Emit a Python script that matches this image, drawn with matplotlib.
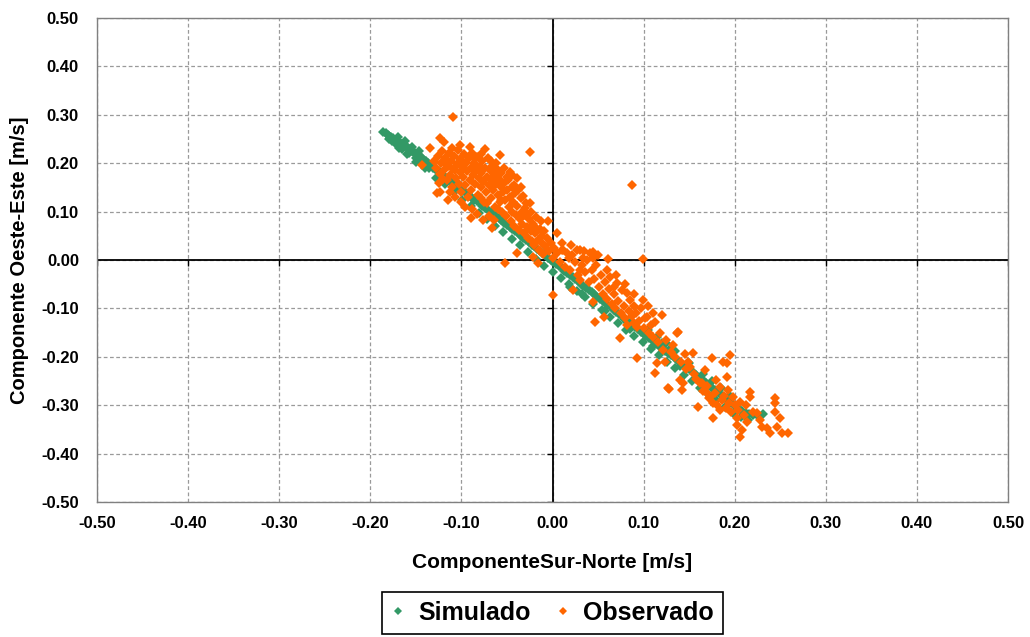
import matplotlib
matplotlib.use("Agg")
import matplotlib.pyplot as plt
from matplotlib.markers import TICKDOWN, TICKLEFT
from matplotlib.ticker import FormatStrFormatter

plt.rcParams['font.family'] = ['Liberation Sans', 'DejaVu Sans']
plt.rcParams['axes.unicode_minus'] = False

# Simulado (componente sur-norte, componente oeste-este)
sim_x = [-0.186, -0.183, -0.181, -0.179, -0.177, -0.175, -0.173, -0.171, -0.169, -0.167,
         -0.165, -0.163, -0.161, -0.159, -0.157, -0.155, -0.153, -0.151, -0.149, -0.147,
         -0.145, -0.143, -0.141, -0.139, -0.137, -0.135, -0.133, -0.131, -0.129, -0.127,
         -0.125, -0.123, -0.121, -0.119, -0.117, -0.115, -0.113, -0.111, -0.109, -0.107,
         -0.104, -0.101, -0.098, -0.095, -0.092, -0.089, -0.086, -0.083, -0.080, -0.077,
         -0.074, -0.071, -0.068, -0.065, -0.062, -0.059, -0.056, -0.053, -0.050, -0.047,
         -0.044, -0.041, -0.038, -0.035, -0.032, -0.029, -0.026, -0.023, -0.020, -0.017,
         -0.014, -0.011, -0.008, -0.005, -0.002, 0.001, 0.004, 0.007, 0.010, 0.013,
         0.016, 0.019, 0.022, 0.025, 0.028, 0.031, 0.034, 0.037, 0.040, 0.043,
         0.046, 0.049, 0.052, 0.055, 0.058, 0.061, 0.064, 0.067, 0.070, 0.073,
         0.076, 0.079, 0.082, 0.085, 0.088, 0.091, 0.094, 0.097, 0.100, 0.103,
         0.106, 0.109, 0.112, 0.115, 0.118, 0.121, 0.124, 0.127, 0.130, 0.133,
         0.136, 0.139, 0.142, 0.145, 0.148, 0.151, 0.154, 0.157, 0.160, 0.163,
         0.166, 0.169, 0.172, 0.175, 0.178, 0.181, 0.184, 0.187, 0.190, 0.193,
         0.196, 0.199, 0.202, 0.205, 0.208, 0.212, 0.216, 0.220, 0.226, 0.231,
         -0.176, -0.168, -0.160, -0.150, -0.140, -0.128, -0.118, -0.108, -0.099, -0.090,
         -0.081, -0.072, -0.063, -0.054, -0.045, -0.036, -0.027, -0.018, -0.009, 0.000,
         0.009, 0.018, 0.027, 0.036, 0.045, 0.054, 0.063, 0.072, 0.081, 0.090,
         0.099, 0.108, 0.117, 0.126, 0.135, 0.144, 0.153, 0.162, 0.171, 0.180,
         0.189, 0.198, 0.207, 0.215, 0.019, 0.032, 0.058, 0.085, 0.110, 0.140,
         -0.180, -0.172, -0.165, -0.158, -0.150, -0.143, -0.136, -0.170, -0.162, -0.154,
         -0.146, 0.105, 0.115, 0.125, 0.135, 0.150, 0.165, 0.175, 0.185, 0.195,
         0.120, 0.130]
sim_y = [0.265, 0.262, 0.258, 0.257, 0.254, 0.252, 0.248, 0.247, 0.244, 0.242,
         0.239, 0.236, 0.235, 0.231, 0.229, 0.226, 0.224, 0.221, 0.219, 0.216,
         0.213, 0.210, 0.207, 0.204, 0.201, 0.197, 0.195, 0.191, 0.189, 0.186,
         0.183, 0.180, 0.176, 0.174, 0.170, 0.168, 0.164, 0.162, 0.158, 0.156,
         0.151, 0.147, 0.143, 0.138, 0.134, 0.130, 0.125, 0.121, 0.117, 0.112,
         0.108, 0.104, 0.099, 0.095, 0.090, 0.086, 0.082, 0.077, 0.073, 0.068,
         0.064, 0.059, 0.055, 0.050, 0.046, 0.041, 0.037, 0.032, 0.028, 0.023,
         0.019, 0.014, 0.010, 0.005, 0.001, -0.004, -0.008, -0.013, -0.017, -0.022,
         -0.026, -0.031, -0.035, -0.040, -0.044, -0.049, -0.053, -0.058, -0.062, -0.067,
         -0.071, -0.076, -0.080, -0.085, -0.089, -0.094, -0.098, -0.103, -0.107, -0.112,
         -0.116, -0.121, -0.125, -0.130, -0.134, -0.139, -0.143, -0.148, -0.152, -0.156,
         -0.161, -0.165, -0.170, -0.174, -0.179, -0.183, -0.188, -0.192, -0.197, -0.201,
         -0.205, -0.210, -0.214, -0.219, -0.223, -0.228, -0.232, -0.237, -0.241, -0.246,
         -0.250, -0.255, -0.259, -0.264, -0.268, -0.273, -0.277, -0.282, -0.286, -0.291,
         -0.295, -0.300, -0.304, -0.308, -0.312, -0.316, -0.318, -0.320, -0.322, -0.318,
         0.245, 0.232, 0.220, 0.203, 0.190, 0.170, 0.156, 0.140, 0.125, 0.111,
         0.098, 0.084, 0.070, 0.057, 0.043, 0.030, 0.016, 0.003, -0.012, -0.025,
         -0.037, -0.050, -0.064, -0.077, -0.091, -0.104, -0.117, -0.130, -0.144, -0.158,
         -0.170, -0.184, -0.197, -0.210, -0.224, -0.238, -0.250, -0.264, -0.277, -0.290,
         -0.303, -0.316, -0.325, -0.330, -0.056, -0.070, -0.105, -0.143, -0.178, -0.220,
         0.250, 0.240, 0.230, 0.222, 0.210, 0.200, 0.190, 0.255, 0.245, 0.234,
         0.225, -0.145, -0.160, -0.172, -0.188, -0.212, -0.235, -0.250, -0.265, -0.280,
         -0.172, -0.182]

# Observado
obs_x = [-0.134, -0.143, -0.127, -0.115, -0.124, -0.123, -0.119, -0.109, -0.102, -0.091,
         -0.074, -0.058, -0.025, -0.047, -0.039, -0.049, -0.130, -0.128, -0.126, -0.124,
         -0.122, -0.121, -0.119, -0.118, -0.116, -0.115, -0.114, -0.112, -0.111, -0.110,
         -0.109, -0.108, -0.106, -0.105, -0.104, -0.103, -0.102, -0.101, -0.100, -0.099,
         -0.098, -0.097, -0.096, -0.095, -0.094, -0.093, -0.092, -0.091, -0.090, -0.089,
         -0.088, -0.087, -0.086, -0.085, -0.084, -0.083, -0.082, -0.081, -0.080, -0.079,
         -0.078, -0.077, -0.076, -0.075, -0.074, -0.073, -0.072, -0.071, -0.070, -0.069,
         -0.068, -0.067, -0.066, -0.065, -0.064, -0.063, -0.062, -0.061, -0.060, -0.059,
         -0.058, -0.057, -0.056, -0.055, -0.054, -0.053, -0.052, -0.051, -0.050, -0.048,
         -0.047, -0.046, -0.045, -0.044, -0.043, -0.042, -0.041, -0.040, -0.039, -0.037,
         -0.036, -0.035, -0.034, -0.033, -0.031, -0.030, -0.029, -0.028, -0.027, -0.026,
         -0.025, -0.024, -0.022, -0.021, -0.020, -0.019, -0.018, -0.016, -0.015, -0.014,
         -0.012, -0.011, -0.010, -0.008, -0.006, -0.005, -0.004, -0.002, 0.000, 0.002,
         -0.090, -0.066, -0.052, -0.039, -0.076, -0.021, -0.016, 0.005, 0.001, 0.087,
         0.005, 0.008, 0.010, 0.012, 0.014, 0.016, 0.018, 0.019, 0.021, 0.023,
         0.025, 0.027, 0.028, 0.030, 0.030, 0.032, 0.034, 0.036, 0.038, 0.040,
         0.041, 0.043, 0.044, 0.045, 0.046, 0.048, 0.050, 0.051, 0.053, 0.055,
         0.056, 0.047, 0.058, 0.060, 0.061, 0.062, 0.063, 0.065, 0.067, 0.069,
         0.071, 0.072, 0.074, 0.075, 0.076, 0.078, 0.080, 0.082, 0.082, 0.084,
         0.085, 0.087, 0.089, 0.090, 0.092, 0.093, 0.093, 0.095, 0.097, 0.099,
         0.099, 0.100, 0.102, 0.104, 0.106, 0.108, 0.110, 0.113, 0.113, 0.115,
         0.116, 0.118, 0.120, 0.121, 0.123, 0.125, 0.127, 0.128, 0.130, 0.132,
         0.134, 0.137, 0.138, 0.140, 0.141, 0.142, 0.143, 0.145, 0.147, 0.149,
         0.151, 0.154, 0.155, 0.157, 0.160, 0.162, 0.164, 0.165, 0.167, 0.169,
         0.170, 0.172, 0.173, 0.175, 0.176, 0.176, 0.178, 0.180, 0.181, 0.184,
         0.184, 0.186, 0.187, 0.188, 0.190, 0.191, 0.191, 0.193, 0.194, 0.195,
         0.196, 0.198, 0.200, 0.202, 0.203, 0.204, 0.206, 0.206, 0.208, 0.210,
         0.212, 0.214, 0.217, 0.217, 0.220, 0.224, 0.228, 0.230, 0.235, 0.239,
         0.244, 0.244, 0.244, 0.246, 0.250, 0.252, 0.258,
         -0.125, -0.120, -0.113, -0.107, -0.100, -0.096, -0.088, -0.083, -0.079, -0.072,
         -0.070, -0.064, -0.060, -0.056, -0.053, -0.050, -0.045, -0.042, -0.038, -0.035,
         -0.032, -0.030, -0.028, -0.024, -0.020, -0.017, -0.013, -0.009, -0.107, -0.097,
         -0.087, -0.078, -0.068, -0.062, -0.110, -0.117, 0.010, 0.020, 0.035, 0.045,
         0.030, 0.060, 0.070, 0.068, 0.080, 0.090, 0.105, 0.110]
obs_y = [0.231, 0.196, 0.138, 0.124, 0.141, 0.252, 0.244, 0.296, 0.238, 0.234,
         0.229, 0.217, 0.223, 0.182, 0.169, 0.165, 0.205, 0.190, 0.215, 0.178,
         0.200, 0.225, 0.185, 0.210, 0.165, 0.195, 0.222, 0.175, 0.205, 0.150,
         0.188, 0.215, 0.170, 0.198, 0.228, 0.158, 0.182, 0.208, 0.140, 0.192,
         0.172, 0.218, 0.155, 0.200, 0.183, 0.130, 0.210, 0.165, 0.190, 0.145,
         0.222, 0.175, 0.200, 0.158, 0.186, 0.212, 0.135, 0.170, 0.195, 0.150,
         0.180, 0.205, 0.162, 0.120, 0.190, 0.140, 0.172, 0.210, 0.155, 0.185,
         0.128, 0.165, 0.195, 0.145, 0.175, 0.110, 0.158, 0.188, 0.135, 0.168,
         0.120, 0.150, 0.180, 0.100, 0.140, 0.160, 0.125, 0.090, 0.145, 0.110,
         0.130, 0.080, 0.150, 0.100, 0.120, 0.070, 0.138, 0.092, 0.112, 0.062,
         0.085, 0.128, 0.100, 0.075, 0.055, 0.092, 0.118, 0.068, 0.045, 0.085,
         0.118, 0.060, 0.040, 0.075, 0.030, 0.055, 0.088, 0.042, 0.020, 0.065,
         0.035, 0.050, 0.012, 0.028, 0.045, 0.081, 0.018, 0.035, 0.005, 0.025,
         0.087, 0.066, -0.006, 0.014, 0.083, 0.006, -0.006, 0.056, -0.072, 0.155,
         0.015, -0.005, 0.020, 0.021, -0.015, 0.014, 0.005, -0.021, 0.010, -0.062,
         -0.005, 0.021, -0.030, 0.021, -0.041, -0.010, 0.005, -0.025, 0.000, -0.045,
         0.014, -0.020, 0.017, -0.087, -0.040, -0.010, 0.010, -0.055, -0.030, -0.070,
         -0.118, -0.128, -0.045, -0.080, 0.002, -0.060, -0.035, -0.090, -0.070, -0.100,
         -0.048, -0.085, -0.161, -0.110, -0.062, -0.095, -0.120, -0.068, -0.134, -0.105,
         -0.083, -0.115, -0.130, -0.095, -0.110, -0.138, -0.202, -0.125, -0.100, -0.083,
         0.002, -0.140, -0.120, -0.118, -0.150, -0.135, -0.160, -0.128, -0.233, -0.213,
         -0.170, -0.150, -0.114, -0.185, -0.211, -0.165, -0.264, -0.267, -0.190, -0.175,
         -0.200, -0.151, -0.149, -0.248, -0.210, -0.269, -0.254, -0.195, -0.225, -0.210,
         -0.221, -0.192, -0.235, -0.245, -0.304, -0.255, -0.254, -0.270, -0.227, -0.273,
         -0.260, -0.285, -0.283, -0.202, -0.295, -0.326, -0.275, -0.248, -0.300, -0.262,
         -0.310, -0.290, -0.211, -0.280, -0.305, -0.242, -0.213, -0.269, -0.295, -0.196,
         -0.315, -0.283, -0.300, -0.326, -0.341, -0.310, -0.293, -0.366, -0.351, -0.320,
         -0.300, -0.335, -0.273, -0.283, -0.315, -0.316, -0.331, -0.345, -0.347, -0.357,
         -0.285, -0.295, -0.314, -0.345, -0.326, -0.357, -0.357,
         0.160, 0.168, 0.140, 0.130, 0.120, 0.110, 0.105, 0.095, 0.128, 0.118,
         0.090, 0.082, 0.105, 0.125, 0.190, 0.172, 0.175, 0.155, 0.145, 0.150,
         0.132, 0.108, 0.095, 0.100, 0.070, 0.060, 0.080, 0.060, 0.185, 0.200,
         0.212, 0.218, 0.205, 0.200, 0.232, 0.198, 0.035, 0.030, 0.018, 0.005,
         -0.020, -0.020, -0.030, -0.055, -0.050, -0.070, -0.095, -0.110]

ticks = [-0.5, -0.4, -0.3, -0.2, -0.1, 0.0, 0.1, 0.2, 0.3, 0.4, 0.5]

fig = plt.figure(figsize=(10.3, 6.37), dpi=100)
ax = fig.add_axes([97 / 1030, 1 - 502 / 637, 911 / 1030, 484 / 637])

# zero axes with small outward tick marks
ax.axhline(0, color='black', linewidth=1.3, zorder=1)
ax.axvline(0, color='black', linewidth=1.3, zorder=1)
ax.plot(ticks, [0] * len(ticks), linestyle='none', marker=TICKDOWN,
        markersize=4, markeredgewidth=1, color='black', zorder=1)
ax.plot([0] * len(ticks), ticks, linestyle='none', marker=TICKLEFT,
        markersize=4, markeredgewidth=1, color='black', zorder=1)

ax.plot(sim_x, sim_y, linestyle='none', marker='D', markersize=5.0,
        markeredgewidth=0, color='#339966', label='Simulado', zorder=3)
ax.plot(obs_x, obs_y, linestyle='none', marker='D', markersize=5.6,
        markeredgewidth=0, color='#FF6600', label='Observado', zorder=4)

ax.set_xlim(-0.5, 0.5)
ax.set_ylim(-0.5, 0.5)
ax.set_xticks(ticks)
ax.set_yticks(ticks)
ax.xaxis.set_major_formatter(FormatStrFormatter('%.2f'))
ax.yaxis.set_major_formatter(FormatStrFormatter('%.2f'))
ax.tick_params(length=0, labelsize=12)
ax.tick_params(axis='y', pad=13)
ax.tick_params(axis='x', pad=10)
for lab in ax.get_xticklabels() + ax.get_yticklabels():
    lab.set_fontweight('bold')

ax.grid(True, linestyle=(0, (3, 2)), color='#9a9a9a', linewidth=0.9, zorder=0)
ax.set_axisbelow(True)
for sp in ax.spines.values():
    sp.set_color('#808080')
    sp.set_linewidth(1.0)

ax.set_xlabel('ComponenteSur-Norte [m/s]', fontsize=15, fontweight='bold', va='center')
ax.xaxis.set_label_coords(0.5, (502 - 563) / 484)
ax.set_ylabel('Componente Oeste-Este [m/s]', fontsize=14.5, fontweight='bold', va='center')
ax.yaxis.set_label_coords((20 - 97) / 911, 0.5)

leg = ax.legend(loc='upper center', bbox_to_anchor=(0.5, (502 - 592) / 484), ncol=2,
                fancybox=False, edgecolor='black', framealpha=1, markerscale=0.75,
                prop={'size': 18, 'weight': 'bold'}, handlelength=0.6,
                handletextpad=0.5, columnspacing=1.0, borderpad=0.35,
                borderaxespad=0)
leg.get_frame().set_linewidth(1.2)

fig.savefig('out.png', dpi=100)
